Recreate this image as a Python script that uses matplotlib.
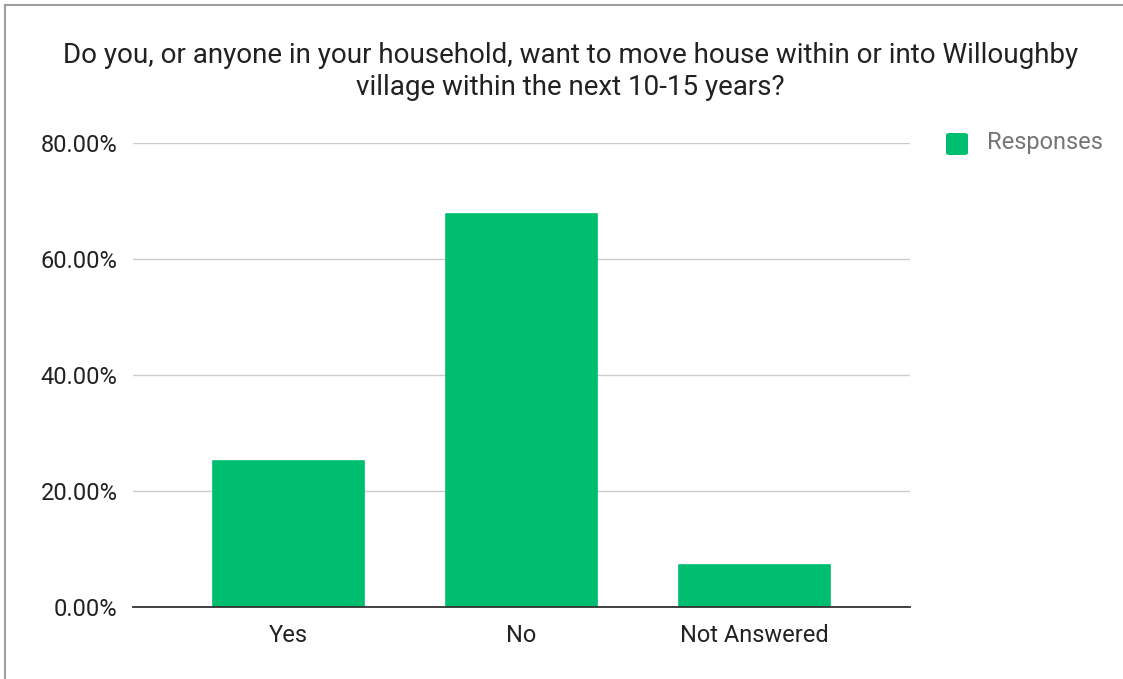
import matplotlib
matplotlib.use("Agg")
import matplotlib.pyplot as plt
from matplotlib.lines import Line2D
from matplotlib.patches import FancyBboxPatch
from matplotlib.ticker import FuncFormatter

# survey answers, share of responses (%)
categories = ["Yes", "No", "Not Answered"]
responses = [25.1, 67.7, 7.2]
y_ticks = [0, 20, 40, 60, 80]

title = ("Do you, or anyone in your household, want to move house within or into Willoughby\n"
         "village within the next 10-15 years?")

bar_color = "#00be6f"
plt.rcParams["font.family"] = ["Roboto", "DejaVu Sans"]

fig = plt.figure(figsize=(11.23, 6.79), dpi=100)
ax = fig.add_axes([0.1184, 0.106, 0.6919, 0.6834])

x = range(len(categories))
ax.bar(x, responses, width=0.648, color=bar_color, edgecolor=bar_color,
       linewidth=1.2, joinstyle="round", zorder=2)

ax.set_xlim(-0.667, 2.667)
ax.set_ylim(0, 80)
ax.set_yticks(y_ticks)
ax.yaxis.set_major_formatter(FuncFormatter(lambda v, _: f"{v:.2f}%"))
ax.set_xticks(list(x))
ax.set_xticklabels(categories)

ax.grid(axis="y", color="#cccccc", linewidth=1, zorder=0)
for side in ["top", "right", "left"]:
    ax.spines[side].set_visible(False)
ax.spines["bottom"].set_color("#333333")
ax.spines["bottom"].set_linewidth(1.3)
ax.spines["bottom"].set_zorder(3)
ax.tick_params(axis="both", length=0, labelsize=17, colors="#222222")
ax.tick_params(axis="y", pad=11)
ax.tick_params(axis="x", pad=12.5)

fig.text(0.508, 0.8947, title, ha="center", va="center", fontsize=20,
         color="#212121", linespacing=1.28)

# legend swatch and label
fig.patches.append(FancyBboxPatch((946 / 1123, 1 - 155 / 679), 22 / 1123, 22 / 679,
                                  boxstyle="round,pad=0,rounding_size=0.003",
                                  transform=fig.transFigure, facecolor=bar_color,
                                  edgecolor="none"))
fig.text(987 / 1123, 1 - 143 / 679, "Responses", ha="left", va="center",
         fontsize=17, color="#757575")

# thin frame along top and left edge
fig.lines.append(Line2D([5 / 1123, 1], [1 - 5 / 679, 1 - 5 / 679],
                        transform=fig.transFigure, color="#9e9e9e", linewidth=1.5))
fig.lines.append(Line2D([5 / 1123, 5 / 1123], [0, 1 - 5 / 679],
                        transform=fig.transFigure, color="#9e9e9e", linewidth=1.5))

fig.savefig("out.png", dpi=100, facecolor="white")
